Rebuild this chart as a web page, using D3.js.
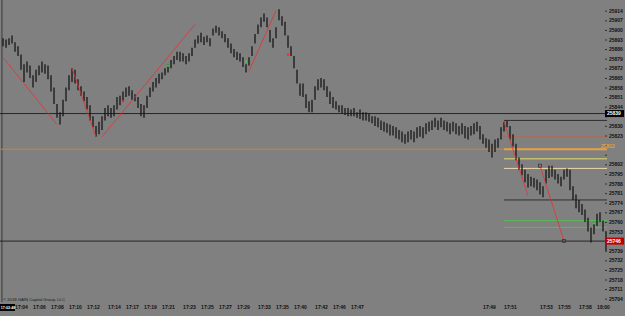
<!DOCTYPE html>
<html>
<head>
<meta charset="utf-8">
<script src="https://cdn.jsdelivr.net/npm/d3@7"></script>
<style>
  body { margin: 0; background: #808080; }
  svg { display: block; }
  text { font-family: "Liberation Sans", Arial, sans-serif; }
</style>
</head>
<body>
<div id="chart"></div>
<script>
// bar highs / lows (price), one bar per slot, left to right
const highs = [25894,25893,25894,25896,25891,25888,25882,25875,25877,25874,25867,25871,25874,25877,25875,25874,25867,25858,25846,25840,
  25849,25858,25867,25872,25871,25864,25859,25855,25851,25845,25837,25830,25833,25837,25843,25845,25843,25845,25851,25852,
  25855,25858,25859,25856,25853,25851,25846,25845,25852,25858,25862,25865,25868,25869,25872,25875,25878,25881,25884,25884,
  25883,25881,25883,25887,25893,25896,25898,25895,25896,25894,25901,25903,25902,25899,25897,25894,25890,25886,25884,25883,
  25880,25875,25880,25888,25897,25904,25909,25912,25909,25900,25894,25902,25915,25910,25906,25896,25888,25881,25871,25861,
  25861,25853,25848,25849,25859,25864,25865,25864,25859,25855,25851,25848,25845,25845,25843,25843,25842,25843,25840,25842,
  25840,25840,25839,25837,25837,25836,25834,25833,25832,25831,25830,25829,25827,25826,25824,25826,25827,25826,25829,25830,
  25829,25832,25833,25834,25836,25834,25836,25834,25833,25832,25833,25832,25830,25832,25830,25829,25830,25832,25833,25830,
  25824,25821,25820,25817,25820,25821,25829,25833,25834,25830,25824,25817,25807,25802,25798,25795,25793,25792,25791,25789,
  25786,25798,25801,25801,25798,25795,25793,25798,25799,25798,25786,25780,25776,25773,25769,25763,25756,25760,25766,25767,
  25761,25753];
const lows = [25888,25887,25889,25890,25884,25881,25871,25862,25869,25865,25858,25862,25867,25869,25868,25864,25855,25846,25836,25831,
  25837,25848,25856,25862,25861,25856,25852,25848,25842,25834,25829,25822,25824,25827,25834,25837,25836,25837,25842,25845,
  25848,25851,25852,25849,25848,25843,25837,25836,25843,25851,25855,25858,25861,25864,25867,25869,25872,25875,25878,25877,
  25877,25875,25877,25881,25887,25890,25891,25889,25891,25888,25896,25898,25896,25894,25891,25887,25883,25880,25878,25877,
  25873,25869,25874,25881,25890,25897,25902,25906,25902,25891,25887,25894,25907,25903,25896,25887,25881,25872,25861,25852,
  25851,25843,25840,25840,25849,25856,25858,25856,25851,25846,25843,25842,25840,25839,25838,25837,25837,25837,25836,25835,
  25834,25834,25833,25832,25830,25829,25827,25826,25825,25823,25823,25821,25820,25818,25817,25818,25820,25818,25821,25822,
  25821,25824,25826,25827,25829,25827,25829,25827,25826,25824,25826,25824,25823,25824,25821,25820,25823,25824,25826,25820,
  25817,25814,25811,25807,25811,25814,25820,25826,25829,25820,25815,25805,25798,25794,25789,25785,25786,25785,25783,25780,
  25778,25788,25792,25793,25791,25788,25786,25791,25793,25783,25776,25770,25767,25765,25760,25753,25745,25751,25757,25760,
  25753,25739];

// price axis labels
const priceTicks = [25914,25907,25900,25893,25886,25879,25872,25865,25858,25851,25844,25837,25830,25823,25816,25809,
  25802,25795,25788,25781,25774,25767,25760,25753,25746,25739,25732,25725,25718,25711,25704];

// time axis labels and the bar slot each one sits on
const timeLabels = ["17:04","17:06","17:08","17:10","17:12","17:14","17:17","17:19","17:21","17:23","17:25","17:27",
  "17:29","17:33","17:35","17:40","17:42","17:46","17:47","17:49","17:51","17:53","17:55","17:58","18:00"];
const timeSlots = [6,12,18,24,30,37,43,49,55,62,68,74,80,87,93,99,106,112,118,162,169,181,187,194,200];

// trend lines: [slot start, price start, slot end, price end]
const trendLines = [[0,25880,18,25831],[23,25872,31,25822],[33,25822,64,25904],[82,25870,91,25914],
  [167,25833,175,25779],[179,25801,187,25746]];

// full width levels
const bidPrice = 25746;
const levelPrice = 25839;
const orangePrice = 25813;
const orangeLabel = "25812";

// short levels on the right side
const shortLevels = [25834,25822,25813,25806,25799,25776,25761,25756];
const shortLevelColors = ['#2e2e2e','#b8664c','#e8a040','#dede6a','#ecd6ae','#2e2e2e','#5cb85c','#5cb85c'];
const shortStart = 167;

// signal dots
const dotSlots = [40,55,81,95,197];
const dotPrices = [25848,25874,25877,25882,25759];
const dotColors = ['#ff2020','#20e020','#20e020','#ff2020','#20e020'];

const W = 625, H = 316;
const plotRight = 605, plotBottom = 302;

const svg = d3.select('#chart').append('svg')
  .attr('width', W).attr('height', H);

svg.append('rect').attr('width', W).attr('height', H).attr('fill', '#808080');

const x = d3.scaleLinear().domain([0, highs.length - 1]).range([3, 606]);
const y = d3.scaleLinear().domain([25914, 25704]).range([10.7, 298.7]);

// period separator
svg.append('line')
  .attr('x1', x(-0.35)).attr('x2', x(-0.35))
  .attr('y1', 0).attr('y2', plotBottom)
  .attr('stroke', '#3a3a3a').attr('stroke-width', 1);

// full width orange line
svg.append('line')
  .attr('x1', 0).attr('x2', plotRight)
  .attr('y1', y(orangePrice)).attr('y2', y(orangePrice))
  .attr('stroke', '#c8843e').attr('stroke-width', 1);

svg.selectAll('.short')
  .data(shortLevels)
  .enter().append('line')
  .attr('x1', x(shortStart)).attr('x2', plotRight + 2)
  .attr('y1', d => y(d)).attr('y2', d => y(d))
  .attr('stroke', (d, i) => shortLevelColors[i])
  .attr('stroke-width', (d, i) => i === 2 ? 2 : 1);

[levelPrice, bidPrice].forEach(p => {
  svg.append('line')
    .attr('x1', 0).attr('x2', plotRight)
    .attr('y1', y(p)).attr('y2', y(p))
    .attr('stroke', '#262626').attr('stroke-width', 1);
});

// bars
svg.append('g').selectAll('line')
  .data(highs)
  .enter().append('line')
  .attr('x1', (d, i) => x(i)).attr('x2', (d, i) => x(i))
  .attr('y1', d => y(d)).attr('y2', (d, i) => y(lows[i]))
  .attr('stroke', '#161616')
  .attr('stroke-width', 1.3);

// trend lines
svg.append('g').selectAll('line')
  .data(trendLines)
  .enter().append('line')
  .attr('x1', d => x(d[0])).attr('y1', d => y(d[1]))
  .attr('x2', d => x(d[2])).attr('y2', d => y(d[3]))
  .attr('stroke', '#e83030').attr('stroke-width', 0.8);

// end markers of the last trend line
const lastTl = trendLines[trendLines.length - 1];
[[lastTl[0], lastTl[1]], [lastTl[2], lastTl[3]]].forEach(pt => {
  svg.append('rect')
    .attr('x', x(pt[0]) - 1.5).attr('y', y(pt[1]) - 1.5)
    .attr('width', 3).attr('height', 3)
    .attr('fill', 'none').attr('stroke', '#303030').attr('stroke-width', 0.7);
});

// dots
svg.append('g').selectAll('rect')
  .data(dotSlots)
  .enter().append('rect')
  .attr('x', d => x(d) - 1).attr('y', (d, i) => y(dotPrices[i]) - 1)
  .attr('width', 2).attr('height', 2)
  .attr('fill', (d, i) => dotColors[i]);

// price axis, labels hidden where a price box sits on top
const boxed = [levelPrice, bidPrice, orangePrice];
const yAxis = svg.append('g')
  .attr('transform', `translate(${plotRight},0)`)
  .call(d3.axisRight(y).tickValues(priceTicks).tickSize(2).tickPadding(2).tickFormat(d3.format('d')));
yAxis.select('.domain').remove();
yAxis.selectAll('line').attr('stroke', '#303030');
yAxis.selectAll('text')
  .attr('font-size', 5).attr('font-weight', 'bold').attr('fill', '#111')
  .attr('font-family', '"Liberation Sans", Arial, sans-serif');
yAxis.selectAll('.tick')
  .filter(d => boxed.some(b => Math.abs(y(b) - y(d)) < 6))
  .select('text').remove();

// price boxes
function priceBox(p, label, bg, fg) {
  svg.append('rect')
    .attr('x', plotRight).attr('y', y(p) - 3.5)
    .attr('width', 19).attr('height', 7).attr('fill', bg);
  svg.append('text')
    .attr('x', plotRight + 2).attr('y', y(p))
    .attr('dy', '0.35em').attr('font-size', 5).attr('font-weight', 'bold')
    .attr('fill', fg).text(label);
}
priceBox(levelPrice, String(levelPrice), '#000', '#fff');
priceBox(bidPrice, String(bidPrice), '#c00000', '#fff');

svg.append('text')
  .attr('x', plotRight - 4).attr('y', y(orangePrice) - 3)
  .attr('dy', '0.35em').attr('font-size', 5).attr('font-weight', 'bold')
  .attr('fill', '#e8a040').text(orangeLabel);

// time axis
const xAxis = svg.append('g')
  .attr('transform', `translate(0,${plotBottom})`)
  .call(d3.axisBottom(x).tickValues(timeSlots).tickSize(0).tickPadding(3)
    .tickFormat((d, i) => timeLabels[i]));
xAxis.select('.domain').remove();
xAxis.selectAll('text')
  .attr('font-size', 5).attr('font-weight', 'bold').attr('fill', '#111')
  .attr('font-family', '"Liberation Sans", Arial, sans-serif');

// separator time box
svg.append('rect').attr('x', 0).attr('y', plotBottom + 2).attr('width', 15).attr('height', 7).attr('fill', '#000');
svg.append('text').attr('x', 0.8).attr('y', plotBottom + 5.5).attr('dy', '0.35em')
  .attr('font-size', 3.6).attr('font-weight', 'bold').attr('fill', '#fff').text('17:02:48');

// copyright
svg.append('text')
  .attr('x', 3).attr('y', plotBottom - 1)
  .attr('font-size', 4.2).attr('fill', '#1a1a1a')
  .text('\u00a9 2018 GAIN Capital Group, LLC');
</script>
</body>
</html>
